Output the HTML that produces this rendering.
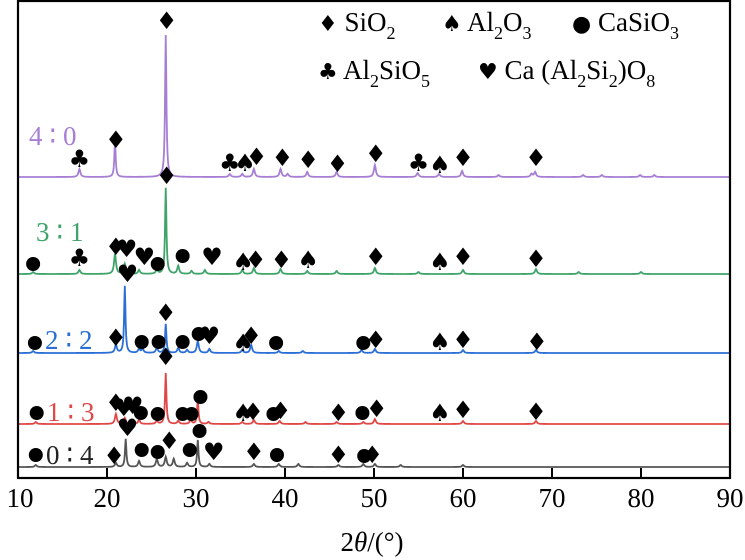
<!DOCTYPE html>
<html><head><meta charset="utf-8"><style>
body{margin:0;background:#fff;}
svg{display:block;font-family:"Liberation Serif",serif;}
.sym{font-family:"DejaVu Sans",sans-serif;font-size:22px;}
</style></head><body>
<svg id="chart" width="745" height="560" viewBox="0 0 745 560" xmlns="http://www.w3.org/2000/svg">
<g id="traces"></g>
<g id="markers"></g>
<rect x="18" y="1" width="712" height="477" fill="none" stroke="#000" stroke-width="2.2"/>
<g id="ticks"></g>
<text x="372" y="551" font-size="27" text-anchor="middle">2<tspan font-style="italic">θ</tspan>/(°)</text>
<g font-size="27">
<text x="318" y="31"><tspan class="sym">♦</tspan> SiO<tspan font-size="18" dy="8">2</tspan></text>
<text x="442" y="31"><tspan class="sym">♠</tspan> Al<tspan font-size="18" dy="8">2</tspan><tspan dy="-8">O</tspan><tspan font-size="18" dy="8">3</tspan></text>
<text x="572" y="31"><tspan class="sym">●</tspan> CaSiO<tspan font-size="18" dy="8">3</tspan></text>
<text x="318" y="79"><tspan class="sym">♣</tspan> Al<tspan font-size="18" dy="8">2</tspan><tspan dy="-8">SiO</tspan><tspan font-size="18" dy="8">5</tspan></text>
<text x="478" y="79"><tspan class="sym">♥</tspan> Ca (Al<tspan font-size="18" dy="8">2</tspan><tspan dy="-8">Si</tspan><tspan font-size="18" dy="8">2</tspan><tspan dy="-8">)O</tspan><tspan font-size="18" dy="8">8</tspan></text>
</g>
<g font-size="27">
<text x="29" y="145" fill="#a67fd4">4 ∶ 0</text>
<text x="36" y="241" fill="#3fa46a">3 ∶ 1</text>
<text x="45" y="349" fill="#2b6fd6">2 ∶ 2</text>
<text x="47" y="421" fill="#e04848">1 ∶ 3</text>
<text x="46" y="464" fill="#222">0 ∶ 4</text>
</g>
</svg>
<script>
const xTicks=[10,20,30,40,50,60,70,80,90];
const sampleNames=["4:0","3:1","2:2","1:3","0:4"];
const sampleColors=["#a67fd4","#3fa46a","#2b6fd6","#e04848","#555"];
const baselines=[177,274,353,424,467];
const peaks40=[[16.9,8],[20.9,35],[26.6,142],[33.8,3],[35.2,3],[36.5,8],[39.5,8],[40.3,3],[42.5,5],[45.8,5],[50.1,12],[54.9,4],[57.3,3],[59.9,6],[64,2],[67.7,3],[68.1,5],[73.5,2],[75.6,2],[79.9,2],[81.5,2]];
const peaks31=[[11.7,2],[16.9,4],[20.9,20],[22,10],[23.6,4],[25.6,4],[26.6,86],[28,8],[29.5,3],[31,4],[35.2,4],[36.5,6],[39.5,5],[42.5,3],[45.8,3],[50.1,6],[55,2],[60,4],[68.2,5],[73,2],[80,2]];
const peaks22=[[11.7,2],[21,8],[22,67],[23.6,4],[24,4],[25.6,5],[26.6,29],[28,5],[29,3],[30.2,12],[31.5,4],[35.2,3],[36.2,8],[39.3,2],[42,2],[48.6,3],[50.1,4],[60,3],[68.2,3]];
const peaks13=[[12,2],[21,10],[22,6],[23.6,4],[25.6,3],[26.6,51],[28,3],[29.4,4],[30.2,24],[31.4,2],[35.2,2],[36.5,4],[39.4,3],[42.3,2],[45.8,2],[48.8,2],[50.1,5],[60,3],[68.2,3]];
const peaks04=[[12,2],[21,4],[22.1,28],[23.6,6],[25.6,8],[26.6,10],[27.5,8],[29,4],[30.2,27],[31.5,3],[36.5,3],[39.3,3],[41.5,3],[46,2],[48.8,3],[50.1,3],[53,2],[60,2]];
const allPeaks=[peaks40,peaks31,peaks22,peaks13,peaks04];
const markSym=["♦","♠","●","♣","♥"];
const markers40=[[3,16.9,159],[0,21.0,140],[0,26.7,21],[3,33.8,163],[1,35.5,163],[0,36.8,157],[0,39.7,158],[0,42.6,160],[0,45.9,164],[0,50.2,154],[3,55.0,163],[1,57.4,165],[0,60.0,158],[0,68.2,158]];
const markers31=[[2,11.7,264],[3,16.9,258],[0,21.0,247],[4,22.2,249],[4,24.2,257],[2,25.7,264],[0,26.7,176],[2,28.5,256],[4,31.8,257],[1,35.3,262],[0,36.7,260],[0,39.6,260],[1,42.6,260],[0,50.2,257],[1,57.4,262],[0,60.0,257],[0,68.2,259]];
const markers22=[[2,11.9,343],[0,21.0,338],[4,22.3,274],[2,23.9,342],[2,25.8,342],[0,26.6,313],[0,26.6,357],[2,28.5,342],[2,30.3,334],[4,31.5,336],[1,35.3,343],[0,36.2,336],[2,39.0,343],[2,48.8,343],[0,50.2,340],[1,57.4,342],[0,60.0,340],[0,68.3,342]];
const markers13=[[2,12.1,413],[0,21.0,403],[4,21.9,408],[4,22.9,406],[2,23.8,413],[2,25.7,414],[2,28.5,414],[2,29.5,414],[2,30.5,397],[1,35.3,413],[0,36.4,412],[2,38.7,414],[0,39.5,411],[0,46.0,413],[2,48.7,413],[0,50.3,409],[1,57.4,413],[0,60.0,410],[0,68.2,412]];
const markers04=[[2,12.0,455],[0,20.8,456],[4,22.3,428],[2,23.9,450],[2,25.7,452],[0,27.0,441],[2,29.3,450],[2,30.4,431],[4,32.0,452],[0,36.5,452],[2,39.1,455],[0,46.0,455],[2,48.9,456],[0,49.8,455]];
const allMarkers=[markers40,markers31,markers22,markers13,markers04];

const NS="http://www.w3.org/2000/svg";
const xs=t=>18+(t-10)*(712/80);
const ys=(b,v)=>b-v;
const traces=document.getElementById('traces');
allPeaks.forEach((pk,i)=>{
  let d="";
  for(let t=10;t<=90.001;t+=0.05){
    let v=0;
    pk.forEach(p=>{const w=p[1]>20?0.09:0.13;const dx=(t-p[0])/w;v+=p[1]/(1+dx*dx);});
    d+=(d?"L":"M")+xs(t).toFixed(2)+","+ys(baselines[i],v).toFixed(2);
  }
  const path=document.createElementNS(NS,'path');
  path.setAttribute('d',d);path.setAttribute('fill','none');
  path.setAttribute('stroke',sampleColors[i]);path.setAttribute('stroke-width','1.8');
  
  
  traces.appendChild(path);
});
const mg=document.getElementById('markers');
allMarkers.forEach((ms,i)=>{
  ms.forEach(m=>{
    if(m[0]===2){
      const c=document.createElementNS(NS,'circle');
      c.setAttribute('cx',xs(m[1]));c.setAttribute('cy',m[2]);c.setAttribute('r','7');
      c.setAttribute('fill','#000');
      
      
      mg.appendChild(c);
      return;
    }
    const tx=document.createElementNS(NS,'text');
    tx.setAttribute('x',xs(m[1]));tx.setAttribute('y',m[2]+8);
    tx.setAttribute('text-anchor','middle');
    tx.setAttribute('font-size','24');
    tx.setAttribute('font-family','"DejaVu Sans",sans-serif');
    tx.textContent=markSym[m[0]];
    
    
    mg.appendChild(tx);
  });
});
const tg=document.getElementById('ticks');
xTicks.forEach(t=>{
  const l=document.createElementNS(NS,'line');
  l.setAttribute('x1',xs(t));l.setAttribute('x2',xs(t));l.setAttribute('y1',478);l.setAttribute('y2',468);
  l.setAttribute('stroke','#000');l.setAttribute('stroke-width','2');
  
  
  tg.appendChild(l);
  const tx=document.createElementNS(NS,'text');
  tx.setAttribute('x',xs(t)+(t===10?2:0));tx.setAttribute('y',507);tx.setAttribute('text-anchor','middle');tx.setAttribute('font-size','27');
  tx.textContent=t;
  
  
  tg.appendChild(tx);
});
</script>
</body></html>
